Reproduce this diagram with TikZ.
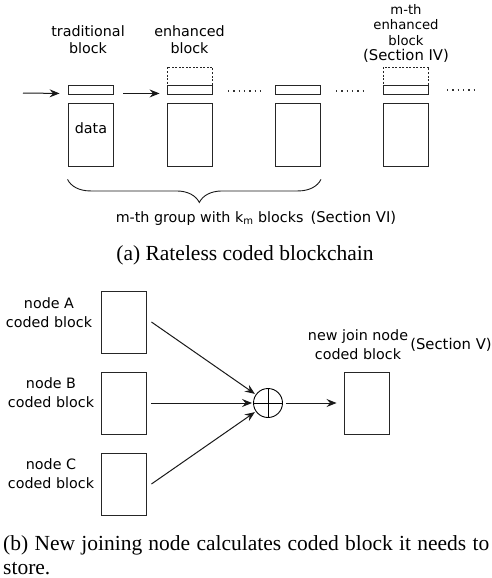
\documentclass[tikz,border=0pt]{standalone}
\usepackage{fontspec}
\setmainfont{DejaVu Sans}
\newfontfamily\capfont{Liberation Serif}
\usetikzlibrary{arrows.meta,decorations.pathreplacing}
\newcommand{\secfont}{\fontsize{14.8}{15.5}\selectfont}
\begin{document}
\begin{tikzpicture}[x=1pt,y=-1pt,
  blk/.style={draw=black!85,line width=0.9pt,inner sep=0pt,minimum width=45pt},
  hdr/.style={blk,minimum height=9pt},
  dat/.style={blk,minimum height=63pt},
  cblk/.style={blk,minimum height=62pt},
  dashblk/.style={draw=black!85,line width=0.9pt,dash pattern=on 2pt off 1.5pt,inner sep=0pt,minimum width=45pt,minimum height=18pt},
  lbl/.style={font=\fontsize{14.3}{17}\selectfont,align=center,inner sep=0pt},
  lblb/.style={font=\fontsize{14.3}{19}\selectfont,align=center,inner sep=0pt},
  arr/.style={draw=black!90,line width=1pt,-{Stealth[length=10pt,width=8pt,inset=3.5pt]}},
  dotline/.style={line width=1.3pt,dash pattern=on 1.3pt off 4pt,black!80},
  captxt/.style={font=\capfont\fontsize{21.5}{24}\selectfont,inner sep=0pt}
]
\useasboundingbox (0,0) rectangle (492,578);
% ---------- (a) ----------
\node[lbl] (t1) at (88,39.5) {traditional\\block};
\node[lbl] (t2) at (189.5,39.5) {enhanced\\block};
\node[align=center,inner sep=0pt,font=\fontsize{13.2}{15.5}\selectfont] (t4) at (406,33.5)
  {m-th\\enhanced\\block\\\secfont(Section IV)};

\node[hdr] (h1) at (90.5,89.5) {};
\node[dat] (d1) at (90.5,134.5) {};
\node[lbl] (dt) at (91,128) {data};

\node[dashblk] (e2) at (189.5,76) {};
\node[hdr] (h2) at (189.5,89.5) {};
\node[dat] (d2) at (189.5,134.5) {};

\node[hdr] (h3) at (298,89.5) {};
\node[dat] (d3) at (298,134.5) {};

\node[dashblk] (e4) at (406,76) {};
\node[hdr] (h4) at (406,89.5) {};
\node[dat] (d4) at (406,134.5) {};

\coordinate (s1) at (23,93);
\draw[arr] (s1) -- ([xshift=-8pt,yshift=1pt]h1.south west);
\draw[arr] ([xshift=10pt,yshift=1pt]h1.south east) -- ([xshift=-7pt,yshift=1pt]h2.south west);

\coordinate (p1) at (228,91); \coordinate (p2) at (261,91);
\coordinate (p3) at (336,91); \coordinate (p4) at (366,91);
\coordinate (p5) at (447,90); \coordinate (p6) at (476,90);
\draw[dotline] (p1) -- (p2);
\draw[dotline] (p3) -- (p4);
\draw[dotline] (p5) -- (p6);

\draw[black!90,line width=0.9pt,decorate,decoration={brace,amplitude=23pt,aspect=0.48}]
  ([yshift=-13pt]d3.south east) -- ([yshift=-13pt]d1.south west);

\node[lbl,anchor=base] (g) at (256,222) {m-th group with k\textsubscript{m} blocks\hspace{7pt}{\secfont(Section VI)}};

\node[captxt,anchor=base] (capa) at (245,260) {(a) Rateless coded blockchain};

% ---------- (b) ----------
\node[cblk] (A) at (123.5,322) {};
\node[cblk] (B) at (123.5,403) {};
\node[cblk] (C) at (123.5,484) {};
\node[cblk] (N) at (366.5,403) {};

\node[lblb] (la) at (49,312.5) {node A\\coded block};
\node[lblb] (lb) at (51,392.5) {node B\\coded block};
\node[lblb] (lc) at (51,474) {node C\\coded block};

\node[draw=black,line width=0.9pt,circle,minimum size=29pt,inner sep=0pt] (P) at (268,403) {};
\draw[black,line width=0.7pt] (P.north) -- (P.south) (P.west) -- (P.east);

\draw[arr,shorten >=1pt] ([xshift=5pt]A.east) -- (P);
\draw[arr,shorten >=1pt] ([xshift=5pt]B.east) -- (P);
\draw[arr,shorten >=1pt] ([xshift=5pt]C.east) -- (P);
\draw[arr] ([xshift=3pt]P.east) -- ([xshift=-7pt]N.west);

\node[lblb] (ln) at (358,345) {new join node\\coded block};
\node[lbl,font=\secfont] (sv) at (451,345) {(Section V)};

\node[captxt,anchor=north west,text width=486pt,align=justify] (capb) at (3,535)
  {(b) New joining node calculates coded block it needs to\linebreak store.};
\end{tikzpicture}
\end{document}
